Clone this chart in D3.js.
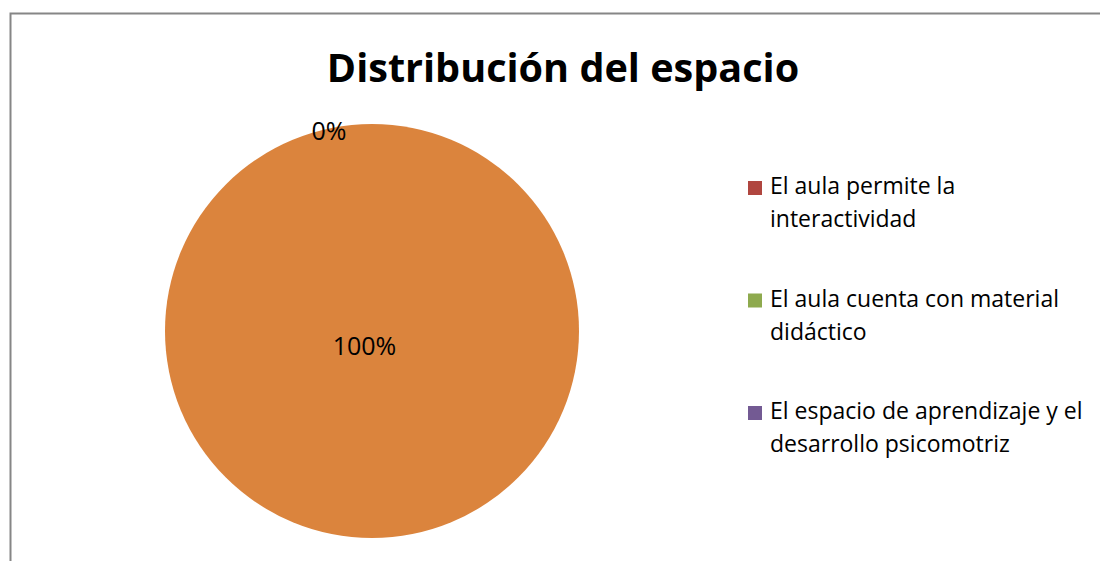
<!DOCTYPE html>
<html>
<head>
<meta charset="utf-8">
<script src="https://cdn.jsdelivr.net/npm/d3@7"></script>
<style>
  body { margin: 0; background: #fff; }
  text { font-family: "Open Sans", Lato, sans-serif; fill: #000; }
</style>
</head>
<body>
<div id="chart"></div>
<script>
(function(){
  var width = 1100,
      height = 561;

  var title = 'Distribución del espacio';
  // legend only lists the first three; the last slice has no legend entry
  var categories = [
    'El aula permite la interactividad',
    'El aula cuenta con material didáctico',
    'El espacio de aprendizaje y el desarrollo psicomotriz',
    'Total'
  ];
  var legendLines = [
    ['El aula permite la', 'interactividad'],
    ['El aula cuenta con material', 'didáctico'],
    ['El espacio de aprendizaje y el', 'desarrollo psicomotriz']
  ];
  var values = [0, 0, 0, 100];
  var colors = ['#B0463F', '#8EAA4E', '#735A93', '#DB843D'];

  var svg = d3.select('#chart')
    .append('svg')
    .attr('width', width)
    .attr('height', height);

  svg.append('rect')
    .attr('x', 10.5).attr('y', 13.5)
    .attr('width', 1200).attr('height', 600)
    .attr('fill', 'none')
    .attr('stroke', '#868686')
    .attr('stroke-width', 2);

  svg.append('text')
    .attr('x', 563).attr('y', 82)
    .attr('text-anchor', 'middle')
    .style('font-size', '39.6px')
    .style('font-weight', 'bold')
    .text(title);

  var cx = 372, cy = 331, r = 207;
  var total = d3.sum(values);

  var pie = d3.pie().sort(null).value(function(d){ return d; });
  var arcs = pie(values);
  var arc = d3.arc().innerRadius(0).outerRadius(r);

  var g = svg.append('g').attr('transform', 'translate(' + cx + ',' + cy + ')');

  g.selectAll('path')
    .data(arcs)
    .enter().append('path')
    .attr('d', arc)
    .attr('fill', function(d, i){ return colors[i]; });

  // Excel stacks the zero labels on one spot; draw only one of them
  var outerLabel = d3.arc().innerRadius(r - 5).outerRadius(r - 5);
  var shown = arcs.filter(function(d, i){ return d.value > 0 || i === 0; });
  g.selectAll('.lbl')
    .data(shown)
    .enter().append('text')
    .attr('class', 'lbl')
    .style('font-size', '25px')
    .attr('text-anchor', 'middle')
    .attr('transform', function(d){
      if (d.value === 0) {
        var c = outerLabel.centroid(d);
        return 'translate(' + (c[0] - 43) + ',' + (c[1] + 11) + ')';
      }
      return 'translate(-7.5,24)';
    })
    .text(function(d){ return Math.round(d.value / total * 100) + '%'; });

  var legend = svg.append('g');
  var item = legend.selectAll('.item')
    .data(legendLines)
    .enter().append('g')
    .attr('class', 'item')
    .attr('transform', function(d, i){ return 'translate(748,' + (181 + i * 112.5) + ')'; });

  item.append('rect')
    .attr('width', 14).attr('height', 14)
    .attr('fill', function(d, i){ return colors[i]; });

  item.append('text')
    .style('font-size', '23px')
    .selectAll('tspan')
    .data(function(d){ return d; })
    .enter().append('tspan')
    .attr('x', 22)
    .attr('y', function(d, j){ return 13 + j * 33; })
    .text(function(d){ return d; });
})();
</script>
</body>
</html>
